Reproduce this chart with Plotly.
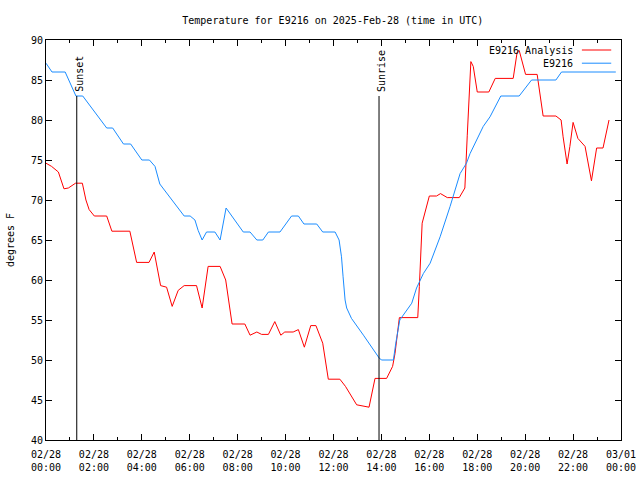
import plotly.graph_objects as go

DATE = "2025-02-28"

station_times = ["00:00", "00:15", "00:48", "01:15", "01:32", "02:32", "02:47", "03:14", "03:32",
                 "04:00", "04:19", "04:33", "04:45", "05:46", "06:01", "06:13", "06:21", "06:31",
                 "06:42", "07:03", "07:16", "07:31", "08:14", "08:31", "08:48", "09:03", "09:17",
                 "09:46", "10:15", "10:32", "10:46", "11:18", "11:33", "12:04", "12:14", "12:20",
                 "12:24", "12:29", "12:33", "12:45", "13:15", "13:55", "14:01", "14:30", "14:36",
                 "14:46", "15:16", "15:28", "15:45", "16:02", "16:27", "16:52", "17:17", "17:33",
                 "17:42", "17:58", "18:15", "18:32", "18:59", "19:45", "20:16", "21:17", "21:31",
                 "23:47"]
station_temps = [87.1, 86, 86, 83, 83, 79, 79, 77, 77,
                 75, 75, 74.2, 72, 68, 68, 67.5, 66.2, 65,
                 66, 66, 65, 69, 66, 66, 65, 65, 66,
                 66, 68, 68, 67, 67, 66, 66, 65, 62.9,
                 60.4, 57.5, 56.5, 55.2, 53.1, 50.2, 50, 50, 52.1,
                 55, 57.1, 59, 60.8, 62.1, 65.4, 69.2, 73.3, 74.6,
                 75.8, 77.5, 79.2, 80.4, 83, 83, 85, 85, 86,
                 86]

analysis_times = ["00:00", "00:14", "00:31", "00:45", "00:56", "01:14", "01:31", "01:40", "01:48",
                  "02:01", "02:32", "02:45", "03:30", "03:47", "04:18", "04:31", "04:47", "05:02",
                  "05:16", "05:31", "05:46", "06:17", "06:31", "06:46", "07:16", "07:30", "07:46",
                  "08:18", "08:31", "08:48", "09:00", "09:17", "09:33", "09:48", "09:58", "10:19",
                  "10:32", "10:47", "11:03", "11:16", "11:33", "11:47", "12:16", "12:30", "12:58",
                  "13:29", "13:44", "14:13", "14:28", "14:34", "14:45", "15:31", "15:35", "15:42",
                  "16:00", "16:18", "16:28", "16:45", "17:15", "17:29", "17:35", "17:40", "17:44",
                  "17:50", "18:00", "18:29", "18:45", "19:30", "19:40", "19:45", "19:51", "20:01",
                  "20:30", "20:37", "20:45", "21:17", "21:30", "21:35", "21:45", "21:52", "22:00",
                  "22:12", "22:30", "22:46", "22:59", "23:15", "23:30"]
analysis_temps = [74.6, 74.2, 73.5, 71.4, 71.5, 72.1, 72.1, 70, 68.8,
                  68, 68, 66.1, 66.1, 62.2, 62.2, 63.5, 59.3, 59.1,
                  56.7, 58.7, 59.3, 59.3, 56.5, 61.7, 61.7, 60, 54.5,
                  54.5, 53.1, 53.5, 53.2, 53.2, 54.8, 53.1, 53.5, 53.5,
                  53.8, 51.6, 54.3, 54.3, 52.1, 47.6, 47.6, 46.7, 44.4,
                  44.1, 47.7, 47.7, 49.2, 50.8, 55.3, 55.3, 59.2, 67.1,
                  70.5, 70.5, 70.8, 70.3, 70.3, 71.5, 78.1, 83.7, 87.3,
                  86.7, 83.5, 83.5, 85.2, 85.2, 88.5, 88.7, 87.5, 85.7,
                  85.7, 83.5, 80.5, 80.5, 80, 77.9, 74.5, 76.7, 79.7,
                  77.7, 76.7, 72.4, 76.5, 76.5, 80]

sunset_time = "01:17"
sunrise_time = "13:54"
event_line_top = 83

tick_times = ["2025-02-28 00:00", "2025-02-28 02:00", "2025-02-28 04:00", "2025-02-28 06:00",
              "2025-02-28 08:00", "2025-02-28 10:00", "2025-02-28 12:00", "2025-02-28 14:00",
              "2025-02-28 16:00", "2025-02-28 18:00", "2025-02-28 20:00", "2025-02-28 22:00",
              "2025-03-01 00:00"]
tick_labels = ["02/28<br>00:00", "02/28<br>02:00", "02/28<br>04:00", "02/28<br>06:00",
               "02/28<br>08:00", "02/28<br>10:00", "02/28<br>12:00", "02/28<br>14:00",
               "02/28<br>16:00", "02/28<br>18:00", "02/28<br>20:00", "02/28<br>22:00",
               "03/01<br>00:00"]
y_ticks = [40, 45, 50, 55, 60, 65, 70, 75, 80, 85, 90]

RED = "#ff0000"
BLUE = "#1a8cff"
FONT = "DejaVu Sans Mono"

def ts(t):
    return f"{DATE} {t}"

fig = go.Figure()
fig.add_trace(go.Scatter(x=[ts(t) for t in analysis_times], y=analysis_temps, mode="lines",
                         line=dict(color=RED, width=1), name="E9216 Analysis", showlegend=False))
fig.add_trace(go.Scatter(x=[ts(t) for t in station_times], y=station_temps, mode="lines",
                         line=dict(color=BLUE, width=1), name="E9216", showlegend=False))

for t, label in [(sunset_time, "Sunset"), (sunrise_time, "Sunrise")]:
    fig.add_shape(type="line", x0=ts(t), x1=ts(t), y0=40, y1=event_line_top,
                  xref="x", yref="y", line=dict(color="black", width=1))
    fig.add_annotation(x=ts(t), y=event_line_top, xref="x", yref="y", text=label,
                       textangle=-90, showarrow=False, xanchor="center", yanchor="bottom",
                       xshift=2, yshift=2, font=dict(family=FONT, size=10, color="black"))

# legend drawn gnuplot-style (text then sample on the right)
legend_rows = [("E9216 Analysis", RED, 0.975), ("E9216", BLUE, 0.942)]
for text, color, yy in legend_rows:
    fig.add_annotation(x=0.92, y=yy, xref="paper", yref="paper", text=text, showarrow=False,
                       xanchor="right", yanchor="middle", font=dict(family=FONT, size=10, color="black"))
    fig.add_shape(type="line", x0=0.932, x1=0.983, y0=yy, y1=yy, xref="paper", yref="paper",
                  line=dict(color=color, width=1))

fig.update_layout(
    width=640, height=480,
    margin=dict(l=46, r=19, t=40, b=40, autoexpand=False),
    paper_bgcolor="white", plot_bgcolor="white",
    title=dict(text="Temperature for E9216 on 2025-Feb-28 (time in UTC)", x=0.52, xanchor="center",
               y=0.958, yanchor="middle", font=dict(family=FONT, size=10, color="black")),
    font=dict(family=FONT, size=10, color="black"),
)
fig.update_xaxes(range=[tick_times[0], tick_times[-1]], tickvals=tick_times, ticktext=tick_labels,
                 ticks="inside", ticklen=6, tickcolor="black", showgrid=False, zeroline=False,
                 showline=True, linecolor="black", linewidth=1, mirror="allticks", automargin=False,
                 minor=dict(ticks="inside", ticklen=3, dtick=3600000, tickcolor="black"),
                 ticklabelstandoff=5, tickfont=dict(family=FONT, size=10))
fig.update_yaxes(range=[40, 90], tickvals=y_ticks, ticks="inside", ticklen=6, tickcolor="black",
                 showgrid=False, zeroline=False, showline=True, linecolor="black", linewidth=1,
                 mirror="allticks", automargin=False, title=dict(text="degrees F", standoff=14,
                 font=dict(family=FONT, size=10)), tickfont=dict(family=FONT, size=10))

fig.write_html("out.html", config={"displayModeBar": False},
               post_script="document.body.style.margin='0px';document.body.style.overflow='hidden';")
